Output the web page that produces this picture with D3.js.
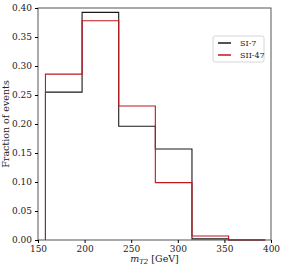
<!DOCTYPE html>
<html>
<head>
<meta charset="utf-8">
<script src="https://cdn.jsdelivr.net/npm/d3@7"></script>
<style>
  body { margin: 0; background: #fff; }
  text { font-family: "DejaVu Serif", "Liberation Serif", serif; }
</style>
</head>
<body>
<div id="chart"></div>
<script>
// bin edges (GeV) and normalised fractions per bin
const binEdges = [158, 197.3, 236.6, 275.9, 315.2, 354.5, 393.8];
const si7 = [0.255, 0.3925, 0.196, 0.157, 0.002, 0.0];
const sii47 = [0.286, 0.378, 0.231, 0.099, 0.007, 0.0];
const seriesNames = ["SI-7", "SII-47"];
const xTicks = [150, 200, 250, 300, 350, 400];
const yTicks = [0, 0.05, 0.10, 0.15, 0.20, 0.25, 0.30, 0.35, 0.40];

const width = 283, height = 271;
const margin = ({top: 8, right: 12, bottom: 31, left: 38});
const colors = ["#1a1a1a", "#c0181e"];

const svg = d3.select("#chart").append("svg")
    .attr("width", width)
    .attr("height", height);

const x = d3.scaleLinear()
    .domain([150, 400])
    .range([margin.left, width - margin.right]);

const y = d3.scaleLinear()
    .domain([0, 0.40])
    .range([height - margin.bottom, margin.top]);

// step outline for a histogram
function stepPath(vals) {
    const pts = [[binEdges[0], 0]];
    vals.forEach((v, i) => {
        pts.push([binEdges[i], v]);
        pts.push([binEdges[i + 1], v]);
    });
    return d3.line().x(d => x(d[0])).y(d => y(d[1]))(pts);
}

[si7, sii47].forEach((vals, i) => {
    svg.append("path")
        .attr("d", stepPath(vals))
        .attr("fill", "none")
        .attr("stroke", colors[i])
        .attr("stroke-width", 1.1)
        .attr("stroke-linejoin", "miter");
});

// frame
svg.append("rect")
    .attr("x", x(150)).attr("y", y(0.40))
    .attr("width", x(400) - x(150))
    .attr("height", y(0) - y(0.40))
    .attr("fill", "none")
    .attr("stroke", "#444")
    .attr("stroke-width", 0.9);

const xAxis = svg.append("g")
    .attr("transform", `translate(0,${y(0)})`)
    .call(d3.axisBottom(x).tickValues(xTicks).tickSize(3).tickFormat(d3.format("d")));
xAxis.select(".domain").remove();
xAxis.selectAll("text").attr("font-size", 9).attr("fill", "#222")
    .attr("font-family", "DejaVu Serif");

const yAxis = svg.append("g")
    .attr("transform", `translate(${x(150)},0)`)
    .call(d3.axisLeft(y).tickValues(yTicks).tickSize(3).tickFormat(d3.format(".2f")));
yAxis.select(".domain").remove();
yAxis.selectAll("text").attr("font-size", 9).attr("fill", "#222")
    .attr("font-family", "DejaVu Serif");

// axis labels
const xl = svg.append("text")
    .attr("x", (x(150) + x(400)) / 2)
    .attr("y", 262)
    .attr("text-anchor", "middle")
    .attr("font-size", 9.5)
    .attr("fill", "#222");
xl.append("tspan").attr("font-style", "italic").text("m");
xl.append("tspan").attr("font-style", "italic").attr("font-size", 7).attr("dy", 2).text("T2");
xl.append("tspan").attr("dy", -2).text(" [GeV]");

svg.append("text")
    .attr("transform", `translate(9,${(y(0) + y(0.40)) / 2}) rotate(-90)`)
    .attr("text-anchor", "middle")
    .attr("font-size", 9.5)
    .attr("fill", "#222")
    .text("Fraction of events");

// legend
const lg = svg.append("g").attr("transform", "translate(213,36)");
lg.append("rect")
    .attr("width", 51).attr("height", 26)
    .attr("rx", 2)
    .attr("fill", "#fff")
    .attr("stroke", "#ccc")
    .attr("stroke-width", 0.8);
seriesNames.forEach((name, i) => {
    const g = lg.append("g").attr("transform", `translate(0,${7 + i * 12})`);
    g.append("line")
        .attr("x1", 5).attr("x2", 18)
        .attr("stroke", colors[i])
        .attr("stroke-width", 1.5);
    g.append("text")
        .attr("x", 27).attr("y", 3)
        .attr("font-size", 8)
        .attr("fill", "#222")
        .text(name);
});
</script>
</body>
</html>
